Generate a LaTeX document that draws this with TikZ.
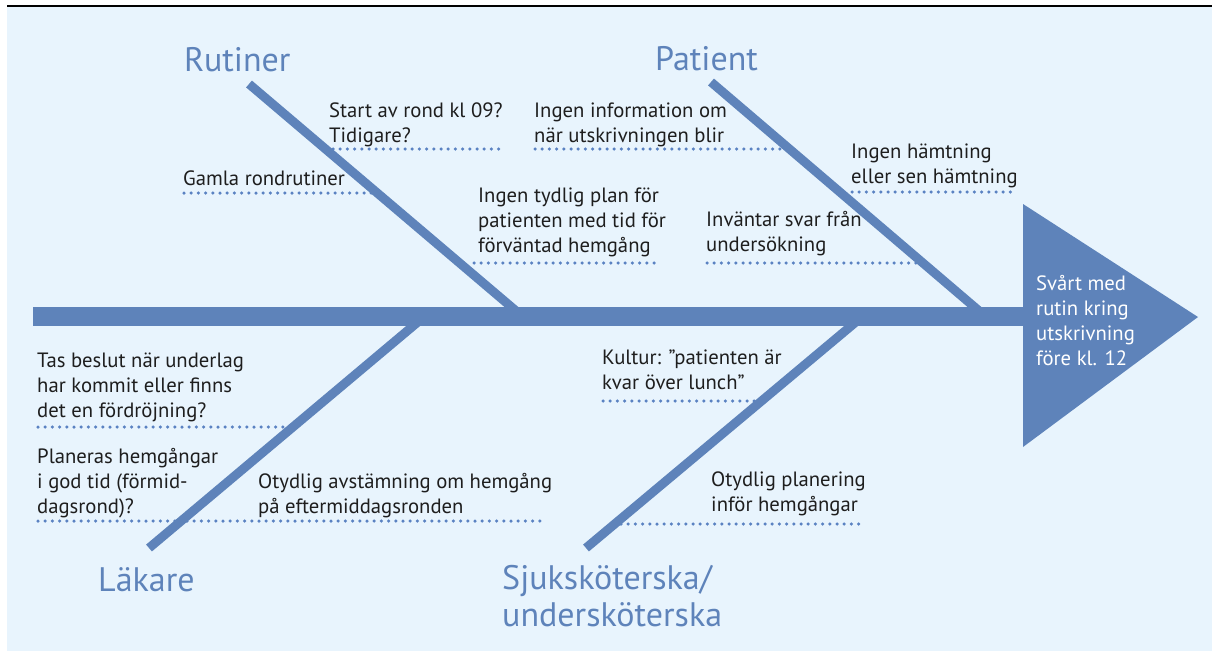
\documentclass[tikz,border=0pt]{standalone}
\usepackage{fontspec}
\setmainfont{PT Sans}
\definecolor{bg}{HTML}{E8F4FD}
\definecolor{bone}{HTML}{5E83BA}
\definecolor{dotc}{HTML}{5A82C2}
\definecolor{txt}{HTML}{1E1E1E}
\tikzset{
  bonestyle/.style={line width=9pt, draw=bone, line cap=butt},
  dotline/.style={draw=dotc, line width=3.5pt, line cap=round, dash pattern=on 0pt off 7.2pt},
  cause/.style={anchor=base west, inner sep=0pt, align=left, text=txt, font=\fontsize{20.7}{25}\selectfont},
  cat/.style={anchor=base west, inner sep=0pt, align=left, text=bone, font=\fontsize{34}{37}\selectfont},
  effect/.style={anchor=base west, inner sep=0pt, align=left, text=white, font=\fontsize{20.7}{25}\selectfont}
}
\begin{document}
\begin{tikzpicture}[x=1pt,y=-1pt]
\useasboundingbox (0,0) rectangle (1212,651);
\fill[bg] (7,7) rectangle (1212,651);
\draw[black, line width=2pt] (7,5.5) -- (1212,5.5);

% coordinates
\coordinate (rutTop) at (249,84);   \coordinate (rutBot) at (522,316);
\coordinate (patTop) at (711,82);   \coordinate (patBot) at (985,316);
\coordinate (lakBot) at (149,548);  \coordinate (lakTop) at (425,316);
\coordinate (sjuBot) at (586,548);  \coordinate (sjuTop) at (863,316);
\coordinate (spL) at (33,316.5);    \coordinate (spR) at (1025,316.5);

% dotted underlines
\coordinate (d1a) at (333,149); \coordinate (d1b) at (502,149);
\coordinate (d2a) at (535,149); \coordinate (d2b) at (781,149);
\coordinate (d3a) at (184,193); \coordinate (d3b) at (376,193);
\coordinate (d4a) at (474,263); \coordinate (d4b) at (658,263);
\coordinate (d5a) at (852,192); \coordinate (d5b) at (1013,192);
\coordinate (d6a) at (707,263); \coordinate (d6b) at (922,263);
\coordinate (d7a) at (38,427);  \coordinate (d7b) at (292,427);
\coordinate (d8a) at (38,521);  \coordinate (d8b) at (180,521);
\coordinate (d9a) at (187,521); \coordinate (d9b) at (545,521);
\coordinate (d10a) at (603,401); \coordinate (d10b) at (764,401);
\coordinate (d11a) at (621,524); \coordinate (d11b) at (861,524);
\foreach \i in {1,...,11} \draw[dotline] (d\i a) -- (d\i b);

% bones
\draw[bonestyle] (rutTop) -- (rutBot);
\draw[bonestyle] (patTop) -- (patBot);
\draw[bonestyle] (lakBot) -- (lakTop);
\draw[bonestyle] (sjuBot) -- (sjuTop);
\draw[line width=19pt, draw=bone] (spL) -- (spR);
\fill[bone] (1023,204) -- (1198,317) -- (1023,447) -- cycle;

% category labels (anchor at last line's baseline)
\node[cat] (rut) at (184,71) {Rutiner};
\node[cat] (pat) at (655,70) {Patient};
\node[cat] (lak) at (98,591) {Läkare};
\node[cat] (sju) at (502,626) {Sjuksköterska/\\undersköterska};

% causes
\node[cause] (c1) at (329,142) {Start av rond kl 09?\\Tidigare?};
\node[cause] (c2) at (534,142) {Ingen information om\\när utskrivningen blir};
\node[cause] (c3) at (183,185) {Gamla rondrutiner};
\node[cause] (c4) at (478,252) {Ingen tydlig plan för\\patienten med tid för\\förväntad hemgång};
\node[cause] (c5) at (851,183) {Ingen hämtning\\eller sen hämtning};
\node[cause] (c6) at (706,251) {Inväntar svar från\\undersökning};
\node[cause] (c7) at (37,417) {Tas beslut när underlag\\har kommit eller finns\\det en fördröjning?};
\node[cause] (c8) at (37,513) {Planeras hemgångar\\i god tid (förmid-\\dagsrond)?};
\node[cause] (c9) at (258,513) {Otydlig avstämning om hemgång\\på eftermiddagsronden};
\node[cause] (c10) at (602,389) {Kultur: ”patienten är\\kvar över lunch”};
\node[cause] (c11) at (711,511) {Otydlig planering\\inför hemgångar};

\node[effect] (eff) at (1036,365) {Svårt med\\rutin kring\\utskrivning\\före kl. 12};
\end{tikzpicture}
\end{document}
